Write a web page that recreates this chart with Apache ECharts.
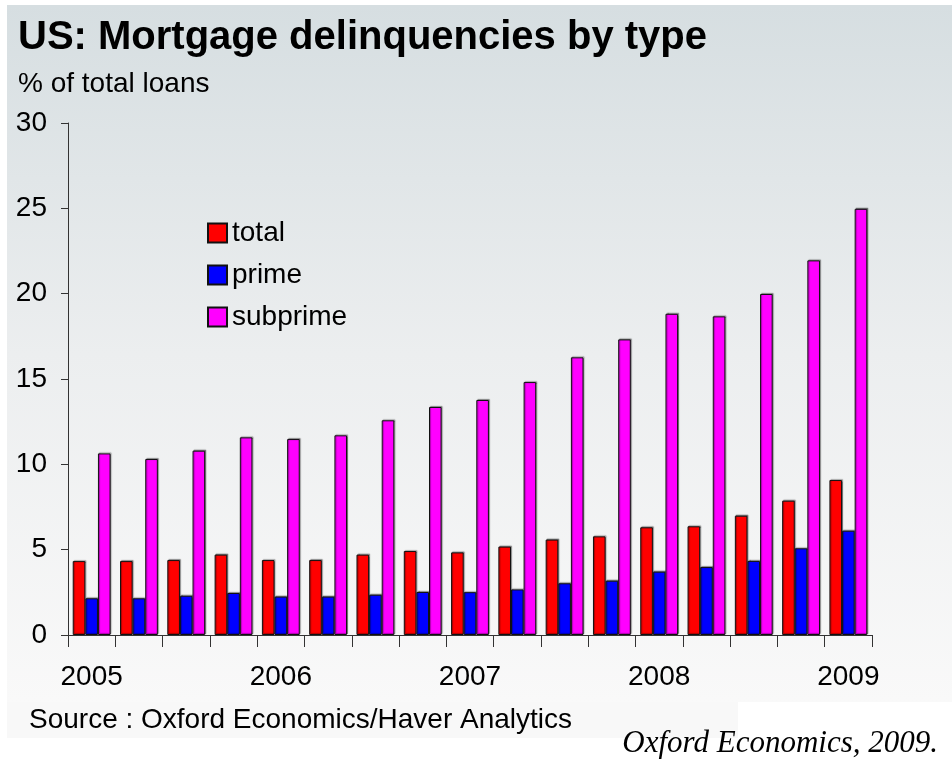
<!DOCTYPE html>
<html>
<head>
<meta charset="utf-8">
<script src="https://cdn.jsdelivr.net/npm/echarts@6/dist/echarts.min.js"></script>
<style>
html,body{margin:0;padding:0;background:#fff;}
#chart{width:952px;height:764px;}
</style>
</head>
<body>
<div id="chart"></div>
<script>
// Quarterly categories, 2005 Q1 to 2009 Q1
var categories = ['2005','2005 Q2','2005 Q3','2005 Q4','2006','2006 Q2','2006 Q3','2006 Q4','2007','2007 Q2','2007 Q3','2007 Q4','2008','2008 Q2','2008 Q3','2008 Q4','2009'];
var totalValues    = [4.33, 4.33, 4.39, 4.71, 4.39, 4.39, 4.71, 4.92, 4.84, 5.18, 5.59, 5.78, 6.31, 6.37, 6.99, 7.87, 9.08];
var primeValues    = [2.15, 2.15, 2.30, 2.46, 2.25, 2.25, 2.36, 2.52, 2.51, 2.67, 3.03, 3.18, 3.71, 3.98, 4.34, 5.08, 6.11];
var subprimeValues = [10.64, 10.31, 10.80, 11.58, 11.48, 11.70, 12.58, 13.36, 13.77, 14.82, 16.27, 17.32, 18.82, 18.67, 19.98, 21.95, 24.97];
var seriesNames = ['total', 'prime', 'subprime'];
var seriesColors = ['#ff0000', '#0000ff', '#ff00ff'];
var yTicks = [0, 5, 10, 15, 20, 25, 30];

var FONT = '"Liberation Sans", Arial, sans-serif';
var chart = echarts.init(document.getElementById('chart'), null, {renderer: 'canvas'});

function barSeries(i, data) {
  return {
    name: seriesNames[i],
    type: 'bar',
    data: data,
    barGap: '0%',
    barCategoryGap: '20%',
    itemStyle: {
      color: seriesColors[i],
      borderColor: '#111',
      borderWidth: 1,
      shadowColor: 'rgba(0,0,0,0.35)',
      shadowOffsetX: 1,
      shadowOffsetY: -1,
      shadowBlur: 1
    }
  };
}

var option = {
  backgroundColor: '#ffffff',
  animation: false,
  graphic: [
    {type: 'rect', z: -10, silent: true, shape: {x: 7, y: 5, width: 945, height: 697},
     style: {fill: new echarts.graphic.LinearGradient(0, 0, 0, 1, [
       {offset: 0, color: '#d6dee1'},
       {offset: 0.5, color: '#eceeef'},
       {offset: 1, color: '#f9f9f9'}])}},
    {type: 'rect', z: -10, silent: true, shape: {x: 7, y: 702, width: 731, height: 36},
     style: {fill: '#f8f8f8'}},
    {type: 'text', left: 18, top: 18, style: {text: 'US: Mortgage delinquencies by type', font: 'bold 40px ' + FONT, fill: '#000'}},
    {type: 'text', left: 18, top: 70, style: {text: '% of total loans', font: '28px ' + FONT, fill: '#000'}},
    {type: 'text', left: 29, top: 706, style: {text: 'Source : Oxford Economics/Haver Analytics', font: '28px ' + FONT, fill: '#000'}},
    {type: 'text', right: 14, top: 728, style: {text: 'Oxford Economics, 2009.', font: 'italic 31px "Liberation Serif", "Times New Roman", serif', fill: '#000'}}
  ],
  legend: {
    orient: 'vertical',
    left: 207,
    top: 219,
    padding: 0,
    itemWidth: 19,
    itemHeight: 19,
    itemGap: 14,
    icon: 'rect',
    data: seriesNames,
    textStyle: {fontFamily: FONT, fontSize: 28, color: '#000'}
  },
  grid: {left: 68, right: 80, top: 123, bottom: 129, containLabel: false},
  xAxis: {
    type: 'category',
    data: categories,
    axisLine: {lineStyle: {color: '#333', width: 1}},
    axisTick: {show: true, interval: 0, alignWithLabel: false, length: 12, lineStyle: {color: '#333'}},
    axisLabel: {
      interval: 0,
      margin: 28,
      fontFamily: FONT, fontSize: 28, color: '#000',
      formatter: function (v) { return /Q/.test(v) ? '' : v; }
    },
    splitLine: {show: false}
  },
  yAxis: {
    type: 'value',
    min: yTicks[0],
    max: yTicks[yTicks.length - 1],
    interval: 5,
    axisLine: {show: true, lineStyle: {color: '#333', width: 1}},
    axisTick: {show: true, length: 7, lineStyle: {color: '#333'}},
    axisLabel: {margin: 21, fontFamily: FONT, fontSize: 28, color: '#000'},
    splitLine: {show: false}
  },
  series: [
    barSeries(0, totalValues),
    barSeries(1, primeValues),
    barSeries(2, subprimeValues)
  ]
};
chart.setOption(option);
</script>
</body>
</html>
